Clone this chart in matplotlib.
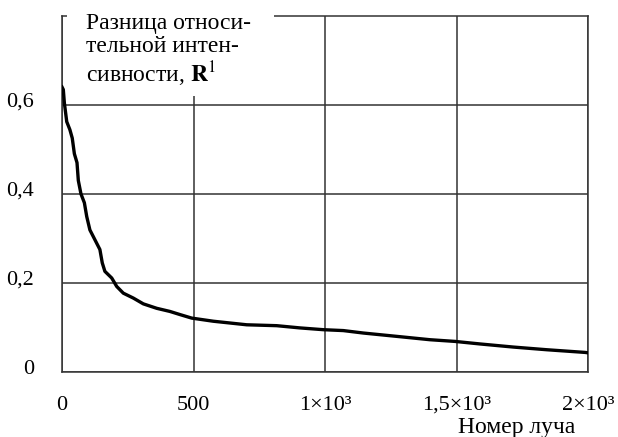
import numpy as np
import matplotlib.pyplot as plt
import matplotlib.transforms as mtransforms
from matplotlib.patches import Rectangle

plt.rcParams['font.family'] = ['Liberation Serif', 'DejaVu Serif']
plt.rcParams['mathtext.fontset'] = 'stix'

# curve: ray number vs relative intensity difference
ray = [0, 5, 9, 18, 30, 39, 47, 57, 62, 72, 85, 94, 106, 125, 144, 153, 163,
       189, 208, 233, 271, 309, 360, 410, 448, 493, 575, 702, 816, 904, 993,
       1069, 1145, 1272, 1398, 1493, 1588, 1715, 1842, 1987, 2000]
r_diff = [0.64, 0.634, 0.604, 0.562, 0.544, 0.525, 0.49, 0.47, 0.43, 0.40,
          0.38, 0.349, 0.319, 0.297, 0.275, 0.245, 0.226, 0.211, 0.192, 0.177,
          0.166, 0.153, 0.143, 0.136, 0.129, 0.121, 0.114, 0.106, 0.104, 0.099,
          0.095, 0.093, 0.0875, 0.080, 0.0725, 0.0687, 0.063, 0.056, 0.050,
          0.044, 0.043]

x_ticks = [0, 500, 1000, 1500, 2000]
x_labels = ['0', '500', '1×10³', '1,5×10³', '2×10³']
y_ticks = [0, 0.2, 0.4, 0.6]
y_labels = ['0', '0,2', '0,4', '0,6']

W, H = 618, 437
fig = plt.figure(figsize=(W / 100, H / 100), dpi=100)
ax = fig.add_axes([62 / W, 65 / H, (588.3 - 62) / W, (372.3 - 16) / H])

ax.plot(ray, r_diff, color='black', lw=2.4, zorder=3)

ax.set_xlim(0, 2000)
ax.set_ylim(0, 0.80)
ax.set_xticks(x_ticks)
ax.set_xticklabels(x_labels, fontsize=16)
ax.set_yticks(y_ticks)
ax.set_yticklabels(y_labels, fontsize=16)
ax.tick_params(length=0)
ax.tick_params(axis='x', pad=17)
ax.tick_params(axis='y', pad=20)
# y labels sit a little above their grid lines
shift = mtransforms.ScaledTranslation(0, 5 / 100, fig.dpi_scale_trans)
for lab in ax.get_yticklabels():
    lab.set_transform(lab.get_transform() + shift)
ax.grid(True, color='#333333', lw=1.1)
for s in ax.spines.values():
    s.set_color('#333333')
    s.set_linewidth(1.1)

# white box behind the axis title, covering the grid and frame
fig.add_artist(Rectangle((67 / W, 1 - 96 / H), (274 - 67) / W, 96 / H,
                         transform=fig.transFigure, facecolor='white',
                         edgecolor='none', zorder=10))
fig.text(86 / W, 1 - 13 / H,
         'Разница относи-\nтельной интен-\nсивности, $\\mathbf{R}^{1}$',
         fontsize=17, va='top', ha='left', linespacing=1.12, zorder=11)

fig.text(517 / W, 1 - 427 / H, 'Номер луча', fontsize=17, ha='center', va='center')

fig.savefig('out.png', dpi=100)
